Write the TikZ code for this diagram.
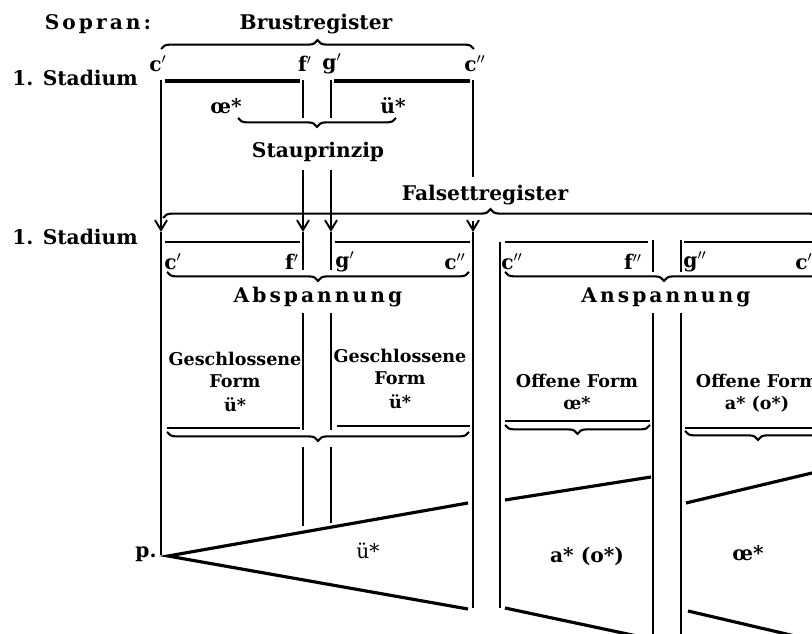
\documentclass[tikz,border=0pt]{standalone}
\usepackage{fontspec}
\setmainfont{DejaVu Serif}
\newfontfamily\sperr[LetterSpace=15]{DejaVu Serif}
\usetikzlibrary{arrows.meta,decorations.pathreplacing}

\begin{document}
\begin{tikzpicture}[
    x=0.02cm, y=-0.02cm,
    lab/.style={font=\fontsize{11.5}{13}\selectfont\bfseries, inner sep=0pt},
    spaced/.style={font=\fontsize{11.5}{13}\sperr\bfseries, inner sep=0pt},
    form/.style={font=\fontsize{10}{12.5}\selectfont\bfseries, align=center, inner sep=0pt},
    vowel/.style={font=\fontsize{11.5}{13}\selectfont, inner sep=0pt},
    rule/.style={line width=0.8pt},
    heavy/.style={line width=1.8pt},
    braceup/.style={decorate, decoration={brace, amplitude=5pt}, line width=1.2pt},
    bracedown/.style={decorate, decoration={brace, mirror, amplitude=5pt}, line width=1.2pt},
    >={Straight Barb[length=2mm, width=2.4mm, line width=1.1pt]}
]
    \clip (0,0) rectangle (812,634);

    % Brustregister
    \node[spaced] (sopran) at (98,24) {Sopran:};
    \node[lab] (brust) at (316,24) {Brustregister};
    \node[lab] (stad1) at (75,78) {1. Stadium};
    \coordinate (bl) at (161,49);
    \coordinate (br) at (474,49);
    \draw[braceup] (bl) -- (br);
    \node[lab] (c1) at (158,64) {c$'$};
    \node[lab] (f1) at (305,64) {f$'$};
    \node[lab] (g1) at (332,64) {g$'$};
    \node[lab] (c2) at (475,64) {c$''$};
    \coordinate (h1a) at (165,81);
    \coordinate (h1b) at (300,81);
    \coordinate (h2a) at (334,81);
    \coordinate (h2b) at (470,81);
    \draw[heavy] (h1a) -- (h1b);
    \draw[heavy] (h2a) -- (h2b);
    \node[lab] (oe1) at (226,106) {œ*};
    \node[lab] (ue1) at (393,106) {ü*};
    \coordinate (sl) at (238,118);
    \coordinate (sr) at (396,118);
    \draw[bracedown] (sl) -- (sr);
    \node[lab] (stau) at (318,152) {Stauprinzip};

    % verticals and arrows
    \coordinate (c1top) at (161,80);
    \coordinate (c1arr) at (161,232);
    \coordinate (c1end) at (161,555);
    \draw[rule,->] (c1top) -- (c1arr);
    \draw[rule] (c1arr) -- (c1end);
    \coordinate (c2top) at (473,80);
    \coordinate (c2mid) at (473,177);
    \coordinate (c2low) at (473,221);
    \coordinate (c2arr) at (473,232);
    \coordinate (c2end) at (473,608);
    \draw[rule] (c2top) -- (c2mid);
    \draw[rule,->] (c2low) -- (c2arr);
    \draw[rule] (c2arr) -- (c2end);
    \foreach \n/\x/\e in {f/303/526, g/331/523} {
        \coordinate (\n top) at (\x,80);
        \coordinate (\n mid) at (\x,118);
        \coordinate (\n low) at (\x,170);
        \coordinate (\n arr) at (\x,232);
        \coordinate (\n end) at (\x,270);
        \coordinate (\n res) at (\x,313);
        \coordinate (\n cut) at (\x,430);
        \coordinate (\n res2) at (\x,447);
        \coordinate (\n tri) at (\x,\e);
        \draw[rule] (\n top) -- (\n mid);
        \draw[rule,->] (\n low) -- (\n arr);
        \draw[rule] (\n arr) -- (\n end);
        \draw[rule] (\n res) -- (\n cut);
        \draw[rule] (\n res2) -- (\n tri);
    }

    % Falsettregister
    \node[lab] (falsett) at (485,195) {Falsettregister};
    \node[lab] (stad2) at (75,237) {1. Stadium};
    \coordinate (fl) at (163,218);
    \coordinate (fr) at (818,218);
    \draw[braceup] (fl) -- (fr);
    \foreach \a/\b in {165/300, 335/470, 505/648, 684/812} {
        \draw[rule] (\a,242) -- (\b,242);
    }
    \coordinate (d1top) at (500,242);
    \coordinate (d1end) at (500,608);
    \draw[rule] (d1top) -- (d1end);
    \foreach \x in {653, 681} {
        \draw[rule] (\x,240) -- (\x,272);
        \draw[rule] (\x,313) -- (\x,634);
    }
    \node[lab] (c3) at (173,262) {c$'$};
    \node[lab] (f3) at (292,262) {f$'$};
    \node[lab] (g3) at (345,262) {g$'$};
    \node[lab] (c4) at (455,262) {c$''$};
    \node[lab] (c5) at (512,262) {c$''$};
    \node[lab] (f5) at (633,262) {f$''$};
    \node[lab] (g5) at (695,262) {g$''$};
    \node[lab] (c6) at (806,262) {c$''$};
    \draw[bracedown] (167,272) -- (469,272);
    \draw[bracedown] (505,272) -- (823,272);
    \node[spaced] (absp) at (318,297) {Abspannung};
    \node[spaced] (ansp) at (666,297) {Anspannung};

    % Formen
    \node[form] (gf1) at (235,382) {Geschlossene\\Form\\[1pt]ü*};
    \node[form] (gf2) at (400,379) {Geschlossene\\Form\\[1pt]ü*};
    \node[form] (of1) at (577,392) {Offene Form\\œ*};
    \node[form] (of2) at (757,393) {Offene Form\\a* (o*)};
    \draw[rule] (167,428) -- (300,428);
    \draw[rule] (337,426) -- (470,426);
    \draw[rule] (505,421) -- (650,421);
    \draw[rule] (685,428) -- (812,428);
    \draw[bracedown] (167,432) -- (469,432);
    \draw[bracedown] (505,425) -- (650,425);
    \draw[bracedown] (685,431) -- (831,431);

    % Keile
    \node[lab] (p) at (146,554) {p.};
    \coordinate (apex) at (168,556);
    \coordinate (t1u) at (468,503);
    \coordinate (t1d) at (468,609);
    \draw[heavy] (t1u) -- (apex) -- (t1d);
    \node[vowel] (ue2) at (368,551) {ü*};
    \coordinate (t2a) at (505,500);
    \coordinate (t2b) at (651,477);
    \coordinate (t2c) at (505,608);
    \coordinate (t2d) at (651,639);
    \draw[heavy] (t2a) -- (t2b);
    \draw[heavy] (t2c) -- (t2d);
    \node[lab] (ao) at (587,556) {a* (o*)};
    \coordinate (t3a) at (686,503);
    \coordinate (t3b) at (812,473);
    \coordinate (t3c) at (688,611);
    \coordinate (t3d) at (812,640);
    \draw[heavy] (t3a) -- (t3b);
    \draw[heavy] (t3c) -- (t3d);
    \node[lab] (oe2) at (748,553) {œ*};
\end{tikzpicture}
\end{document}
